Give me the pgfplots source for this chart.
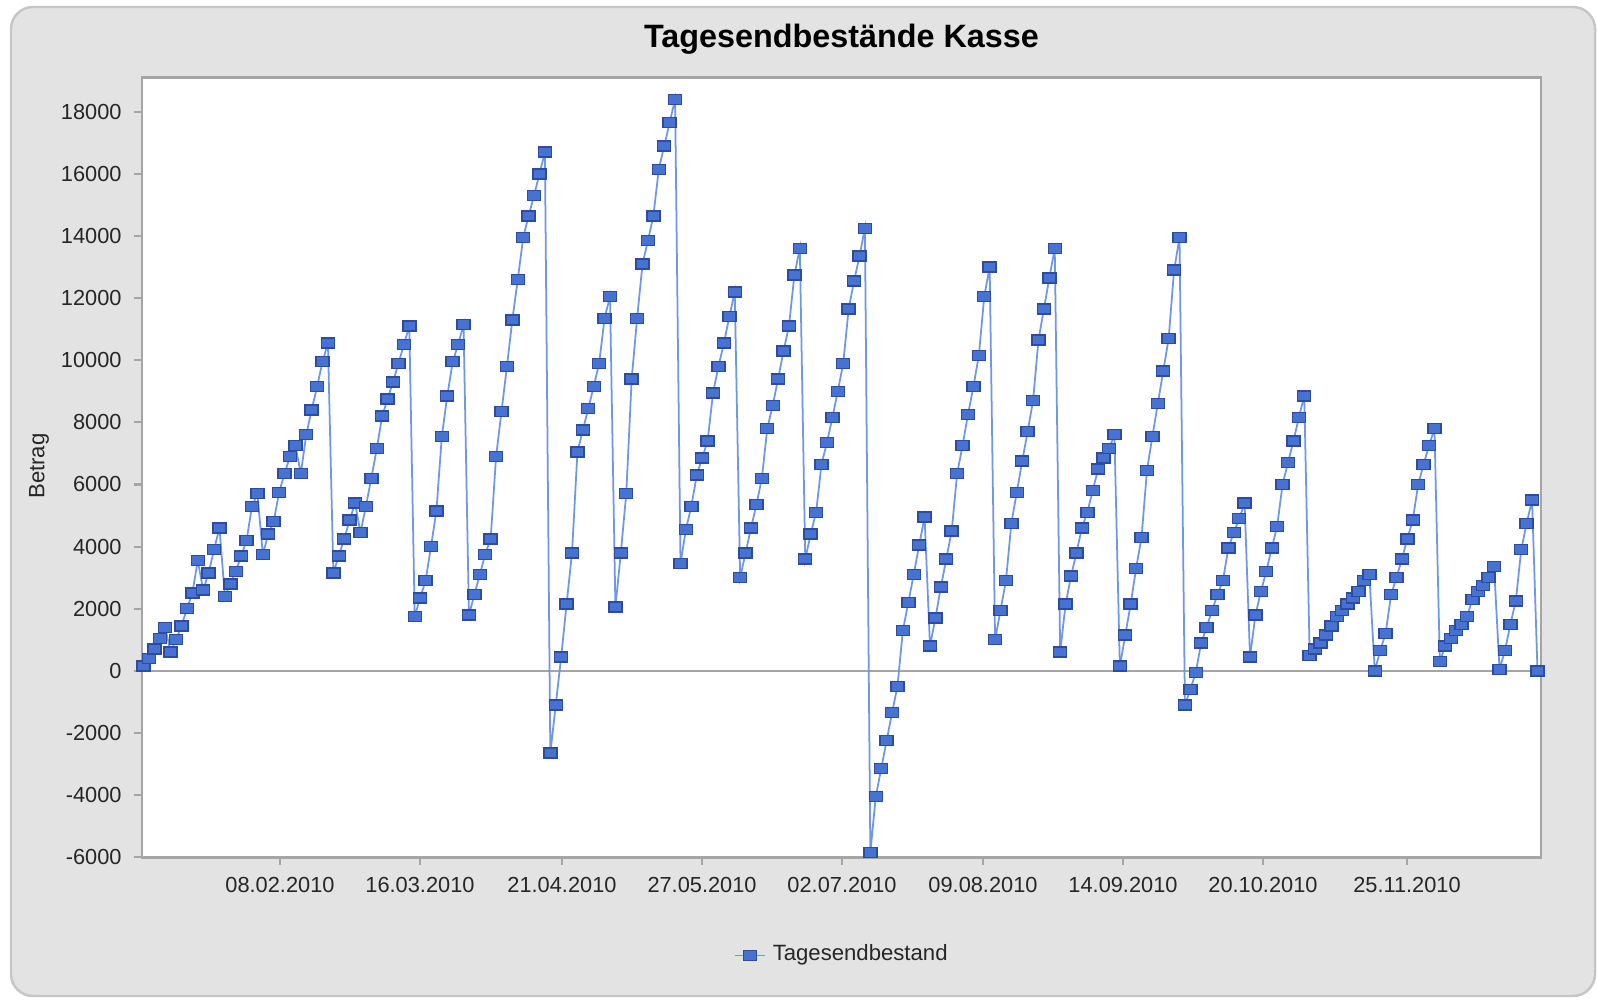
\documentclass[border=0pt]{standalone}
\usepackage{fontspec}
\setmainfont{Liberation Sans}
\usepackage{pgfplots}
\usepackage{pgfplotstable}
\pgfplotsset{compat=1.18}
\definecolor{panel}{RGB}{227,227,227}
\definecolor{panelborder}{RGB}{198,198,198}
\definecolor{axisgray}{RGB}{165,165,165}
\definecolor{markfill}{RGB}{70,114,210}
\definecolor{markdraw}{RGB}{45,75,160}
\definecolor{linecol}{RGB}{110,150,235}
\pgfplotstableread{
v
150
400
700
1050
1400
600
1000
1450
2000
2500
3550
2600
3150
3900
4600
2400
2800
3200
3700
4200
5300
5700
3750
4400
4800
5750
6350
6900
7250
6350
7600
8400
9150
9950
10550
3150
3700
4250
4850
5400
4450
5300
6200
7150
8200
8750
9300
9900
10500
11100
1750
2350
2900
4000
5150
7550
8850
9950
10500
11150
1800
2450
3100
3750
4250
6900
8350
9800
11300
12600
13950
14650
15300
16000
16700
-2650
-1100
450
2150
3800
7050
7750
8450
9150
9900
11350
12050
2050
3800
5700
9400
11350
13100
13850
14650
16150
16900
17650
18400
3450
4550
5300
6300
6850
7400
8950
9800
10550
11400
12200
3000
3800
4600
5350
6200
7800
8550
9400
10300
11100
12750
13600
3600
4400
5100
6650
7350
8150
9000
9900
11650
12550
13350
14250
-5850
-4050
-3150
-2250
-1350
-500
1300
2200
3100
4050
4950
800
1700
2700
3600
4500
6350
7250
8250
9150
10150
12050
13000
1000
1950
2900
4750
5750
6750
7700
8700
10650
11650
12650
13600
600
2150
3050
3800
4600
5100
5800
6500
6850
7150
7600
150
1150
2150
3300
4300
6450
7550
8600
9650
10700
12900
13950
-1100
-600
-50
900
1400
1950
2450
2900
3950
4450
4900
5400
450
1800
2550
3200
3950
4650
6000
6700
7400
8150
8850
500
700
900
1150
1450
1750
1950
2150
2350
2550
2900
3100
0
650
1200
2450
3000
3600
4250
4850
6000
6650
7250
7800
300
800
1050
1300
1500
1750
2300
2550
2750
3000
3350
50
650
1500
2250
3900
4750
5500
0
}\kasse
\begin{document}
\begin{tikzpicture}[x=1cm,y=1cm]
\path[use as bounding box] (0,0) rectangle (15.97,9.99);
\fill[white] (0,0) rectangle (15.97,9.99);
\draw[panelborder, fill=panel, line width=0.7pt, rounded corners=0.22cm] (0.11,0.03) rectangle (15.95,9.92);
\node[font=\fontsize{9.2}{11}\selectfont\bfseries] at (8.415,9.60) {Tagesendbestände Kasse};
\node[rotate=90, font=\fontsize{6.3}{7.5}\selectfont, text=black!85] at (0.39,5.33) {Betrag};
\begin{axis}[
  at={(1.42cm,1.418cm)}, anchor=south west,
  scale only axis, width=13.99cm, height=7.796cm,
  xmin=-0.28, xmax=257.65, ymin=-6000, ymax=19100,
  scaled y ticks=false, scaled x ticks=false,
  axis background/.style={fill=white},
  axis line style={axisgray, line width=0.8pt},
  tick align=outside, major tick length=0.08cm,
  tick style={axisgray, line width=0.6pt},
  xtick pos=lower, ytick pos=left,
  xtick={25.16,50.97,77.15,102.97,128.78,154.77,180.58,206.39,232.94},
  xticklabels={08.02.2010,16.03.2010,21.04.2010,27.05.2010,02.07.2010,09.08.2010,14.09.2010,20.10.2010,25.11.2010},
  ytick={-6000,-4000,-2000,0,2000,4000,6000,8000,10000,12000,14000,16000,18000},
  yticklabels={-6000,-4000,-2000,0,2000,4000,6000,8000,10000,12000,14000,16000,18000},
  ticklabel style={font=\fontsize{6.2}{7.4}\selectfont, text=black!85},
  legend style={at={(0.502,-0.126)}, anchor=center, draw=none, fill=none,
    font=\fontsize{6.3}{7.5}\selectfont, text=black!85},
  legend image code/.code={\draw[mark repeat=2,mark phase=2] plot coordinates {(0cm,0cm) (0.15cm,0cm) (0.3cm,0cm)};},
]
\draw[axisgray, line width=0.6pt] (axis cs:-0.28,0) -- (axis cs:257.65,0);
\addplot[color=linecol, line width=0.5pt, mark=square*, mark size=0.05cm,
  mark options={xscale=1.3, fill=markfill, draw=markdraw, line width=0.4pt, solid}]
  table[x expr=\coordindex, y=v] {\kasse};
\addlegendentry{Tagesendbestand}
\end{axis}
\end{tikzpicture}
\end{document}
